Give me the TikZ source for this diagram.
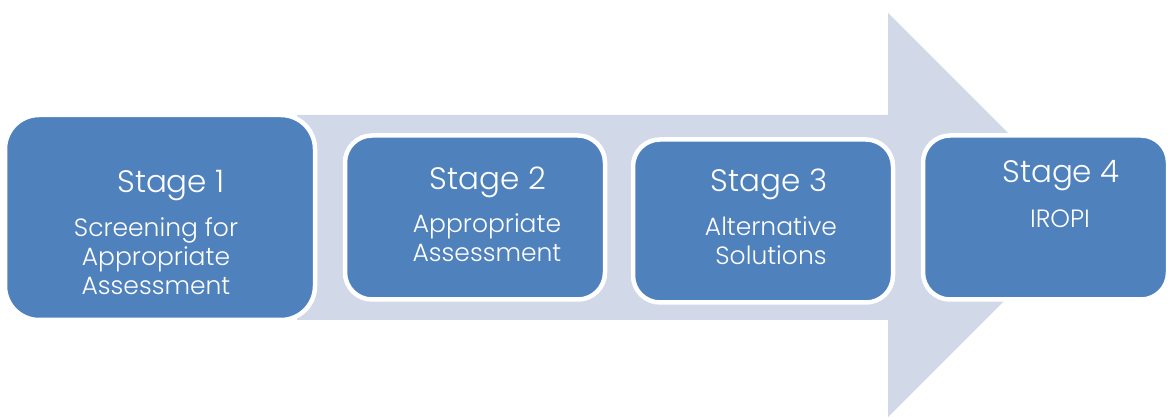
\documentclass[tikz,border=0pt]{standalone}
\usepackage{fontspec}
\setmainfont{Poppins}[UprightFont={* Light}]
\usepackage{tikz}
\definecolor{stageBlue}{HTML}{4F81BD}
\definecolor{arrowGrey}{HTML}{D1D8E7}
\tikzstyle{stageBox}=[shape = rectangle, fill = stageBlue, draw = white, line width = 4.5pt, inner sep = 0pt]
\tikzstyle{titleText}=[text = white, inner sep = 0pt, anchor = base, font = \fontsize{31}{31}\selectfont]
\tikzstyle{bodyText}=[text = white, inner sep = 0pt, anchor = base, align = center, font = \fontsize{25}{29}\selectfont]

\begin{document}
\begin{tikzpicture}[x = 1pt, y = -1pt]
\useasboundingbox (0,0) rectangle (1168,419);
\fill[arrowGrey] (297,115) -- (888,115) -- (888,13) -- (1090,215) -- (888,417) -- (888,320) -- (297,320) -- cycle;
\node[stageBox, rounded corners = 34pt, minimum width = 310pt, minimum height = 205pt] (s1) at (160,217.5) {};
\node[stageBox, rounded corners = 27pt, minimum width = 260pt, minimum height = 164pt] (s2) at (475,217.5) {};
\node[stageBox, rounded corners = 27pt, minimum width = 260pt, minimum height = 163pt] (s3) at (763,221) {};
\node[stageBox, rounded corners = 27pt, minimum width = 245pt, minimum height = 164pt] (s4) at (1045.5,217.5) {};
\node[titleText] (t1) at (171,193) {Stage 1};
\node[titleText] (t2) at (488,190) {Stage 2};
\node[titleText] (t3) at (769,192) {Stage 3};
\node[titleText] (t4) at (1061,183) {Stage 4};
\node[bodyText] (d1) at (156,295) {Screening for\\Appropriate\\Assessment};
\node[bodyText] (d2) at (487,262) {Appropriate\\Assessment};
\node[bodyText] (d3) at (771,265) {Alternative\\Solutions};
\node[bodyText] (d4) at (1060,228) {IROPI};
\end{tikzpicture}
\end{document}
